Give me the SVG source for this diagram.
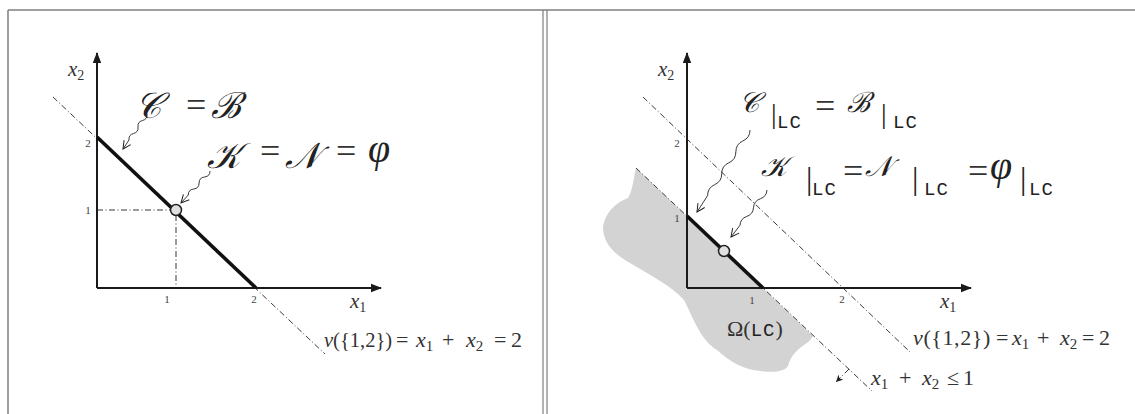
<svg xmlns="http://www.w3.org/2000/svg" width="1135" height="414" viewBox="0 0 1135 414">
<style>
.frame{stroke:#808080;stroke-width:1.5;fill:none}
.axis{stroke:#1a1a1a;stroke-width:2;fill:none}
.dd{stroke:#222;stroke-width:0.9;fill:none;stroke-dasharray:6 2.5 1 2.5}
.thick{stroke:#111;stroke-width:3.6;fill:none}
.wavy{stroke:#222;stroke-width:0.9;fill:none}
.pt{fill:#e0e0e0;stroke:#222;stroke-width:1.5}
.tick{font-family:"Liberation Serif",serif;font-size:11px;fill:#444;text-anchor:middle}
.var{font-family:"Liberation Serif",serif;font-style:italic;font-size:21px;fill:#333}
.sub{font-style:normal;font-size:14px}
.scr{font-family:"Liberation Serif","DejaVu Serif",serif;font-style:italic;fill:#222}
.eq{font-family:"Liberation Serif",serif;font-size:36px;fill:#333}
.phi{font-family:"Liberation Serif",serif;font-style:italic;font-size:40px;fill:#222}
.bar{font-family:"Liberation Serif",serif;fill:#222}
.mono{font-family:"Liberation Mono",monospace;font-size:19px;letter-spacing:1px;fill:#222}
.math{font-family:"Liberation Serif",serif;font-size:22px;fill:#333}
.it{font-style:italic}
.s{font-size:15px}
</style>
<defs>
<marker id="ah" markerWidth="10" markerHeight="10" refX="9" refY="5" orient="auto" markerUnits="userSpaceOnUse">
<path d="M1,1 L9,5 L1,9" fill="none" stroke="#222" stroke-width="1"/>
</marker>
<marker id="tri" markerWidth="12" markerHeight="10" refX="10" refY="5" orient="auto" markerUnits="userSpaceOnUse">
<path d="M0,0.8 L11,5 L0,9.2 Z" fill="#1a1a1a"/>
</marker>
<marker id="sm" markerWidth="8" markerHeight="8" refX="7" refY="4" orient="auto" markerUnits="userSpaceOnUse">
<path d="M0,0.5 L7,4 L0,7.5 L2,4 Z" fill="#222"/>
</marker>
</defs>

<g id="frame">
<path class="frame" d="M8,10 H1135 M8,10 V414"/>
<path class="frame" d="M543,10 V414 M547,10 V414" style="stroke-width:1.2"/>
</g>

<g id="left-panel">
<g id="left-axes">
<path class="axis" d="M97,288 V53" marker-end="url(#tri)"/>
<path class="axis" d="M97,288 H381" marker-end="url(#tri)"/>
<text class="var" x="68" y="76">x<tspan class="sub" dy="4">2</tspan></text>
<text class="var" x="350" y="308">x<tspan class="sub" dy="4">1</tspan></text>
<text class="tick" x="88" y="147">2</text>
<text class="tick" x="88" y="214">1</text>
<text class="tick" x="167" y="303">1</text>
<text class="tick" x="254" y="303">2</text>
</g>
<g id="left-lines">
<path class="dd" d="M53,97 L325,354"/>
<path class="dd" d="M97,210 H176 V288"/>
<path class="thick" d="M97,137 L256,288"/>
</g>
<g id="left-point">
<circle class="pt" cx="176" cy="210" r="5.5"/>
</g>
<g id="left-label-CB">
<text class="scr" x="135" y="118" font-size="36">𝒞</text>
<text class="eq" x="186" y="117">=</text>
<text class="scr" x="211" y="118" font-size="36">ℬ</text>
</g>
<g id="left-label-KNphi">
<text class="scr" x="207" y="168" font-size="36">𝒦</text>
<text class="eq" x="260" y="163">=</text>
<text class="scr" x="285" y="168" font-size="36">𝒩</text>
<text class="eq" x="336" y="163">=</text>
<text class="phi" x="368" y="162">φ</text>
</g>
<g id="left-vlabel">
<text class="math" y="347"><tspan x="324" font-size="20.5"><tspan class="it">v</tspan>({1,2})</tspan><tspan x="396">=</tspan><tspan x="416" class="it">x</tspan><tspan class="s" dy="4">1</tspan><tspan x="442" dy="-4">+</tspan><tspan x="466" class="it">x</tspan><tspan class="s" dy="4">2</tspan><tspan x="494" dy="-4">=</tspan><tspan x="511">2</tspan></text>
</g>
</g>

<g id="right-panel">
<g id="right-region">
<path d="M636,168 C634,175 633,190 628,198 C618,202 606,210 603,227 C603,240 610,252 630,263 C650,275 670,285 684,300 C692,315 700,340 717,350 C730,362 745,370 760,371 C775,373 785,371 788,366 C790,358 795,352 800,348 C805,344 810,342 813,336 Z" fill="#d3d3d3"/>
</g>
<g id="right-axes">
<path class="axis" d="M687,288 V53" marker-end="url(#tri)"/>
<path class="axis" d="M687,288 H971" marker-end="url(#tri)"/>
<text class="var" x="658" y="76">x<tspan class="sub" dy="4">2</tspan></text>
<text class="var" x="940" y="308">x<tspan class="sub" dy="4">1</tspan></text>
<text class="tick" x="677" y="147">2</text>
<text class="tick" x="677" y="222">1</text>
<text class="tick" x="752" y="304">1</text>
<text class="tick" x="842" y="303">2</text>
</g>
<g id="right-lines">
<path class="dd" d="M643,97 L910,352"/>
<path class="dd" d="M636,168 L872,391"/>
<path class="thick" d="M687,216 L763,288"/>
<path class="dd" d="M849,369 L836,382" marker-end="url(#sm)"/>
</g>
<g id="right-point">
<circle class="pt" cx="724" cy="251" r="5.5"/>
</g>
<g id="right-label-CB">
<text class="scr" x="739" y="112" font-size="28">𝒞</text>
<text class="bar" x="771" y="123" font-size="28">|</text>
<text class="mono" x="777" y="128">LC</text>
<text class="eq" x="815" y="118">=</text>
<text class="scr" x="847" y="112" font-size="28">ℬ</text>
<text class="bar" x="881" y="123" font-size="28">|</text>
<text class="mono" x="893" y="128">LC</text>
</g>
<g id="right-label-KNphi">
<text class="scr" x="761" y="176" font-size="28">𝒦</text>
<text class="bar" x="806" y="189" font-size="32">|</text>
<text class="mono" x="812" y="195">LC</text>
<text class="eq" x="843" y="183">=</text>
<text class="scr" x="865" y="176" font-size="28">𝒩</text>
<text class="bar" x="912" y="189" font-size="32">|</text>
<text class="mono" x="924" y="195">LC</text>
<text class="eq" x="968" y="183">=</text>
<text class="phi" x="990" y="179">φ</text>
<text class="bar" x="1020" y="189" font-size="32">|</text>
<text class="mono" x="1029" y="195">LC</text>
</g>
<g id="right-omega">
<text class="math" x="727" y="336" font-size="20">Ω(<tspan class="mono" font-size="18" letter-spacing="0">LC</tspan>)</text>
</g>
<g id="right-vlabel">
<text class="math" y="345"><tspan x="913" letter-spacing="0.6"><tspan class="it">v</tspan>({1,2})</tspan><tspan x="996">=</tspan><tspan x="1012" class="it">x</tspan><tspan class="s" dy="4">1</tspan><tspan x="1037" dy="-4">+</tspan><tspan x="1060" class="it">x</tspan><tspan class="s" dy="4">2</tspan><tspan x="1082" dy="-4">=</tspan><tspan x="1099">2</tspan></text>
<text class="math" y="385"><tspan x="871" class="it">x</tspan><tspan class="s" dy="4">1</tspan><tspan x="899" dy="-4">+</tspan><tspan x="922" class="it">x</tspan><tspan class="s" dy="4">2</tspan><tspan x="947" dy="-4">≤</tspan><tspan x="963">1</tspan></text>
</g>
</g>

<g id="connectors">
<path class="wavy" d="M147,114 Q147.6,119.2 142.5,120.5 T138,127 T133.5,133.5 T129,140 L123,149" marker-end="url(#ah)"/>
<path class="wavy" d="M210,171 Q210,176.4 204.56,177 T199.1,183 T193.7,189 T188.25,195 L181,203" marker-end="url(#ah)"/>
<path class="wavy" d="M750,130 Q750,137.8 742.93,140.93 T735.87,151.87 T728.8,162.8 T721.73,173.73 T714.67,184.67 T707.6,195.6 L697,212" marker-end="url(#ah)"/>
<path class="wavy" d="M767,190 Q766.6,196.6 760.25,198.81 T753.5,207.63 T746.75,216.44 T740,225.25 L731,237" marker-end="url(#ah)"/>
</g>
</svg>
